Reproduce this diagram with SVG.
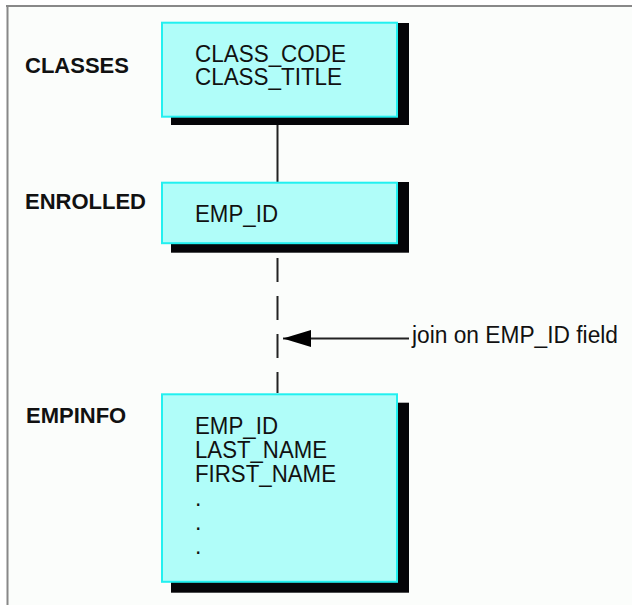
<svg xmlns="http://www.w3.org/2000/svg" width="632" height="605" viewBox="0 0 632 605">
<style>
.lbl{font-family:"Liberation Sans",Arial,sans-serif;font-weight:bold;font-size:22px;fill:#111}
.fld{font-family:"Liberation Sans",Arial,sans-serif;font-size:23px;fill:#111}
.box{fill:#b0fdf9;stroke:#22f0f0;stroke-width:2}
.shadow{fill:#050508}
.conn{stroke:#222;stroke-width:2;fill:none}
</style>
<defs>
<marker id="arrow" markerWidth="30" markerHeight="18" refX="29" refY="9" orient="auto" markerUnits="userSpaceOnUse">
<path d="M29,9 L1,0.5 L1,17.5 Z" fill="#000"/>
</marker>
</defs>
<rect x="0" y="0" width="632" height="605" fill="#ffffff"/>
<rect x="7" y="6" width="625" height="599" fill="#fbfdfb"/>
<line x1="6" y1="6" x2="632" y2="6" stroke="#888" stroke-width="2"/>
<line x1="7.5" y1="5" x2="7.5" y2="605" stroke="#888" stroke-width="2"/>

<g id="connectors">
<line class="conn" x1="277.5" y1="125" x2="277.5" y2="182"/>
<line class="conn" x1="277.5" y1="258" x2="277.5" y2="393" stroke-dasharray="24 14"/>
<line class="conn" x1="409" y1="338.5" x2="283" y2="338.5" marker-end="url(#arrow)"/>
<text class="fld" x="412" y="343" textLength="206" lengthAdjust="spacingAndGlyphs">join on EMP_ID field</text>
</g>

<g id="classes">
<rect class="shadow" x="171" y="23" width="238" height="102"/>
<rect class="box" x="162" y="22.7" width="235" height="94"/>
<text class="lbl" x="25" y="72.5">CLASSES</text>
<text class="fld" x="195" y="61.5" textLength="151" lengthAdjust="spacingAndGlyphs">CLASS_CODE</text>
<text class="fld" x="195" y="85" textLength="147" lengthAdjust="spacingAndGlyphs">CLASS_TITLE</text>
</g>

<g id="enrolled">
<rect class="shadow" x="171" y="182" width="238" height="70.7"/>
<rect class="box" x="162" y="182.7" width="235" height="60.5"/>
<text class="lbl" x="25" y="209">ENROLLED</text>
<text class="fld" x="195" y="221.5" textLength="83" lengthAdjust="spacingAndGlyphs">EMP_ID</text>
</g>

<g id="empinfo">
<rect class="shadow" x="171" y="402.7" width="238" height="190"/>
<rect class="box" x="162" y="394.3" width="235" height="187.5"/>
<text class="lbl" x="26" y="422.5">EMPINFO</text>
<text class="fld" x="195" y="434" textLength="83" lengthAdjust="spacingAndGlyphs">EMP_ID</text>
<text class="fld" x="195" y="458" textLength="132" lengthAdjust="spacingAndGlyphs">LAST_NAME</text>
<text class="fld" x="195" y="482" textLength="141" lengthAdjust="spacingAndGlyphs">FIRST_NAME</text>
<text class="fld" x="195" y="506">.</text>
<text class="fld" x="195" y="530">.</text>
<text class="fld" x="195" y="554">.</text>
</g>
</svg>
